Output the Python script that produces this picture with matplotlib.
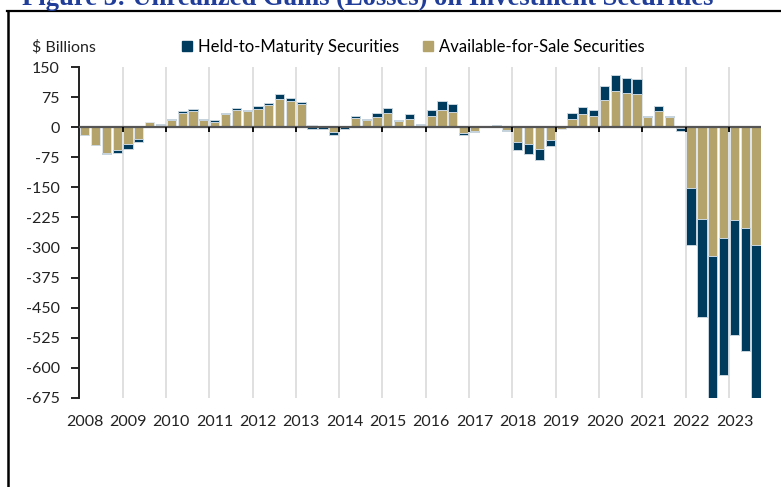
import numpy as np
import matplotlib
matplotlib.use("Agg")
import matplotlib.pyplot as plt
from matplotlib.lines import Line2D

years = list(range(2008, 2024))
quarters = [f"{y}Q{q}" for y in years for q in range(1, 5)][:63]

afs = [-19, -44, -64, -56, -42, -30, 12, 6,
       18, 35, 40, 17, 14, 32, 42, 40,
       46, 55, 71, 66, 57, 6, 3, -12,
       3, 23, 17, 26, 35, 16, 21, 5,
       29, 43, 38, -15, -9, 1, 3, -6,
       -36, -42, -54, -31, -4, 21, 32, 27,
       68, 89, 86, 82, 26, 40, 26, -1,
       -151, -229, -322, -276, -231, -251, -293]
htm = [-1, -1, -3, -8, -12, -8, 0, 3,
       2, 5, 6, 3, 3, 3, 6, 3,
       6, 6, 11, 6, 6, -4, -4, -7,
       -4, 5, 3, 9, 13, 3, 11, 4,
       14, 22, 20, -4, -3, 0, 3, -4,
       -20, -25, -29, -17, 0, 15, 19, 17,
       35, 40, 37, 37, 2, 12, 3, -9,
       -142, -243, -360, -342, -286, -308, -385]

yticks = list(range(150, -676, -75))
NAVY = "#003a5c"
TAN = "#b4a46c"

plt.rcParams['font.family'] = ['Lato', 'DejaVu Sans']

fig = plt.figure(figsize=(7.81, 4.87), dpi=100)
ax = fig.add_axes([0.1015, 0.1828, 0.8735, 0.6796])

x = np.arange(len(quarters))
a = np.array(afs, dtype=float)
h = np.array(htm, dtype=float)
same = np.sign(a) == np.sign(h)
bottom_h = np.where(same, a, 0.0)

for b in np.arange(0, len(quarters) + 1, 4) - 0.5:
    ax.axvline(b, color="#dadada", lw=1.2, zorder=0)

ax.bar(x, a, width=0.85, color=TAN, edgecolor="#dfe5ea", linewidth=0.7, zorder=2,
       label="Available-for-Sale Securities")
ax.bar(x, h, width=0.85, bottom=bottom_h, color=NAVY, edgecolor="#c9d5de", linewidth=0.7,
       zorder=2, label="Held-to-Maturity Securities")

ax.axhline(0, color="#555555", lw=1.6, zorder=3)
bounds = np.arange(4, len(quarters), 4) - 0.5
ax.vlines(bounds, -12, 0, color="black", lw=1.3, zorder=3)

ax.set_xlim(-0.5, len(quarters) - 0.5)
ax.set_ylim(-675, 150)
ax.set_yticks(yticks)
ax.set_yticklabels([str(v) for v in yticks], fontsize=11.5, color="#222222")
ax.set_xticks(np.arange(0, len(quarters), 4))
ax.set_xticklabels([str(y) for y in years], fontsize=11.5, color="#222222")
ax.tick_params(axis='x', length=0, pad=12)
ax.tick_params(axis='y', length=6, width=1.2, pad=8, direction='out')
for s in ["top", "right", "bottom"]:
    ax.spines[s].set_visible(False)
ax.spines["left"].set_linewidth(1.4)
ax.spines["left"].set_color("#222222")

handles = [Line2D([0], [0], marker='s', color='none', markerfacecolor=NAVY, markeredgecolor=NAVY, markersize=7),
           Line2D([0], [0], marker='s', color='none', markerfacecolor=TAN, markeredgecolor=TAN, markersize=7)]
fig.legend(handles, ["Held-to-Maturity Securities", "Available-for-Sale Securities"],
           loc="center left", bbox_to_anchor=(180 / 781, 1 - 47 / 487), ncol=2, frameon=False,
           fontsize=12, handlelength=0.8, handletextpad=0.3, columnspacing=1.3,
           borderaxespad=0, borderpad=0)

fig.text(32 / 781, 1 - 47 / 487, "$ Billions", fontsize=11.5, va="center", ha="left", color="#222222")

fig.text(22 / 781, 1 - 5 / 487, "Figure 3: Unrealized Gains (Losses) on Investment Securities",
         family="Liberation Serif", fontweight="bold", fontsize=19.2, color="#1f3d99",
         va="baseline", ha="left")

fig.add_artist(Line2D([7 / 781, 1.0], [1 - 11 / 487, 1 - 11 / 487], color="black", lw=1.6,
                      transform=fig.transFigure))
fig.add_artist(Line2D([8 / 781, 8 / 781], [1 - 11 / 487, 0.0], color="black", lw=1.8,
                      transform=fig.transFigure))

fig.savefig("out.png", dpi=100)
